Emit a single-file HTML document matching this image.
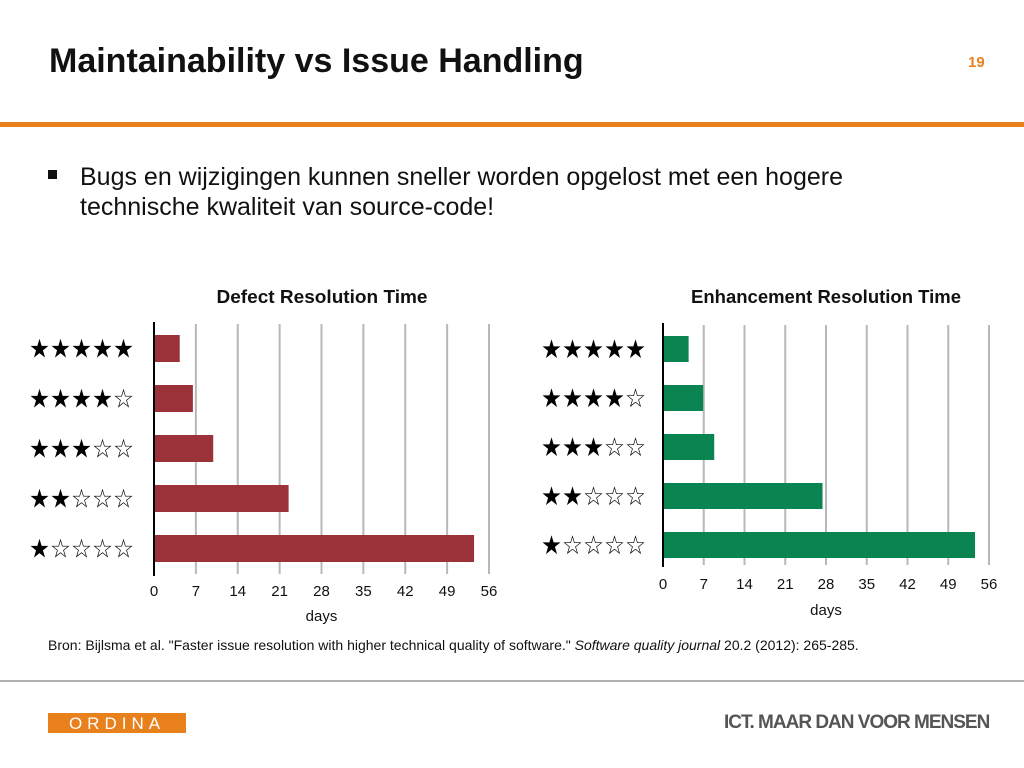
<!DOCTYPE html>
<html><head><meta charset="utf-8"><style>
body{margin:0;width:1024px;height:768px;background:#fff;font-family:"Liberation Sans",Arial,sans-serif;position:relative;overflow:hidden}
.abs{position:absolute;white-space:nowrap}
</style></head><body>
<div class="abs" style="left:49px;top:42px;font-size:34px;font-weight:bold;color:#111">Maintainability vs Issue Handling</div>
<div class="abs" style="left:968px;top:54px;font-size:15px;font-weight:bold;color:#e8801c">19</div>
<div class="abs" style="left:0;top:122px;width:1024px;height:5px;background:#e8801c"></div>
<div class="abs" style="left:48px;top:170px;width:9px;height:9px;background:#111"></div>
<div class="abs" style="left:80px;top:162px;font-size:25px;color:#111;line-height:30px">Bugs en wijzigingen kunnen sneller worden opgelost met een hogere<br>technische kwaliteit van source-code!</div>
<svg class="abs" style="left:0;top:0" width="1024" height="680" id="svg"></svg>
<div class="abs" style="left:48px;top:637px;font-size:14px;color:#111">Bron: Bijlsma et al. "Faster issue resolution with higher technical quality of software." <i>Software quality journal</i> 20.2 (2012): 265-285.</div>
<div class="abs" style="left:0;top:680px;width:1024px;height:2px;background:#b0b0b0"></div>
<div class="abs" style="left:48px;top:713px;width:138px;height:20px;background:#e8801c;color:#fff;font-size:17px;letter-spacing:5px;line-height:21px;text-align:center">ORDINA</div>
<div class="abs" style="left:724px;top:712px;font-size:19px;font-weight:bold;color:#555;letter-spacing:-1px">ICT. MAAR DAN VOOR MENSEN</div>
<script>
const ratings=[5,4,3,2,1];
const ticks=[0,7,14,21,28,35,42,49,56];
const defectDays=[4.3,6.5,9.9,22.5,53.5];
const enhanceDays=[4.4,6.9,8.8,27.4,53.6];
const NS='http://www.w3.org/2000/svg';
const svg=document.getElementById('svg');
function mk(t,a,p){const e=document.createElementNS(NS,t);for(const k in a)e.setAttribute(k,a[k]);(p||svg).appendChild(e);return e;}
function chart(cfg){
  const g=mk('g',{});
  
  
  const x=v=>cfg.x0+(v/56)*(cfg.x56-cfg.x0);
  const t=mk('text',{x:cfg.titleX,y:cfg.titleY,'font-size':18,'font-weight':'bold','text-anchor':'middle',fill:'#111',textLength:cfg.titleW,lengthAdjust:'spacingAndGlyphs'},g);
  t.textContent=cfg.title;
  
  
  ticks.forEach(v=>{
    if(v>0){const l=mk('line',{x1:x(v),x2:x(v),y1:cfg.axTop+2,y2:cfg.axBot-2,stroke:'#b8b8b8','stroke-width':2},g);
    
    }
    const tl=mk('text',{x:x(v),y:cfg.tickY,'font-size':15,'text-anchor':'middle',fill:'#111'},g);
    tl.textContent=v;
    
    
  });
  cfg.data.forEach((v,i)=>{
    const y=cfg.barTop+i*cfg.step;
    const b=mk('rect',{x:x(0),y:y,width:x(v)-x(0),height:cfg.bh,fill:cfg.color},g);
    
    
    const s=mk('text',{x:cfg.starX,y:y+cfg.bh/2+9,'font-size':26,fill:'#000','font-family':'DejaVu Sans',textLength:105,lengthAdjust:'spacingAndGlyphs'},g);
    s.textContent='★'.repeat(ratings[i])+'☆'.repeat(5-ratings[i]);
    
    
  });
  const ax=mk('line',{x1:x(0),x2:x(0),y1:cfg.axTop,y2:cfg.axBot,stroke:'#000','stroke-width':2},g);
  
  
  const d=mk('text',{x:(x(0)+x(56))/2,y:cfg.daysY,'font-size':15,'text-anchor':'middle',fill:'#111'},g);
  d.textContent='days';
  
  
}
chart({name:'defect-chart',title:'Defect Resolution Time',titleX:322,titleY:303,titleW:211,x0:154,x56:489,axTop:322,axBot:576,barTop:335,step:50,bh:27,tickY:596,daysY:621,starX:29,color:'#9b3139',data:defectDays});
chart({name:'enhancement-chart',title:'Enhancement Resolution Time',titleX:826,titleY:303,titleW:270,x0:663,x56:989,axTop:323,axBot:567,barTop:336,step:49,bh:26,tickY:589,daysY:615,starX:541,color:'#0a8552',data:enhanceDays});
</script>
</body></html>
